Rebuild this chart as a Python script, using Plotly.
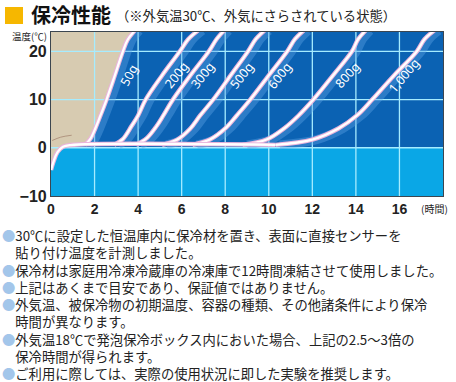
import plotly.graph_objects as go

# ---------------- data ----------------
hour_ticks = [0, 2, 4, 6, 8, 10, 12, 14, 16]
temp_ticks = [-10, 0, 10, 20]
temp_tick_text = ["−10", "0", "10", "20"]

# initial warming of frozen pack + frozen plateau
start_t = [0.0, 0.12, 0.3, 0.55, 0.9, 10.3]
start_temp = [-4.6, -2.8, -0.9, 0.2, 0.56, 0.6]

faint_t = [0.05, 0.45, 0.95]
faint_temp = [1.5, 2.2, 2.6]

labels = ["50g", "200g", "300g", "500g", "600g", "800g", "1,000g"]

t_50g = [1.55, 1.8, 2.05, 2.27, 2.55, 2.93, 3.3, 3.52, 3.85]
temp_50g = [0.6, 1.8, 4.2, 6.7, 10, 15, 20, 22.4, 24.3]
t_200g = [2.9, 3.3, 3.7, 4.0, 4.35, 5.1, 5.92, 6.3, 6.75]
temp_200g = [0.6, 1.8, 4.5, 6.7, 10, 15, 20, 22.5, 24.3]
t_300g = [3.9, 4.4, 4.85, 5.16, 5.6, 6.4, 7.25, 7.6, 7.95]
temp_300g = [0.6, 2.0, 4.5, 6.7, 10, 15, 20, 22.5, 24.3]
t_500g = [5.1, 5.8, 6.4, 6.85, 7.45, 8.25, 9.05, 9.4, 9.8]
temp_500g = [0.6, 1.7, 4.0, 6.7, 10, 15, 20, 22.5, 24.3]
t_600g = [6.5, 7.3, 8.0, 8.53, 9.15, 10.0, 10.85, 11.2, 11.6]
temp_600g = [0.6, 1.7, 4.0, 6.7, 10, 15, 20, 22.5, 24.3]
t_800g = [8.8, 9.9, 10.7, 11.37, 12.05, 12.95, 13.82, 14.1, 14.45]
temp_800g = [0.6, 1.7, 4.0, 6.7, 10, 15, 20, 22.5, 24.3]
t_1000g = [10.3, 12.0, 13.2, 14.05, 14.75, 15.75, 16.8, 17.15, 17.6]
temp_1000g = [0.6, 1.7, 4.0, 6.7, 10, 15, 20, 22.5, 24.3]

curves_t = [t_50g, t_200g, t_300g, t_500g, t_600g, t_800g, t_1000g]
curves_temp = [temp_50g, temp_200g, temp_300g, temp_500g, temp_600g, temp_800g, temp_1000g]

title_main = "保冷性能"
title_sub = "（※外気温30℃、外気にさらされている状態）"
y_title = "温度(℃)"
x_unit = "(時間)"

notes = [
    (True, "30℃に設定した恒温庫内に保冷材を置き、表面に直接センサーを"),
    (False, "貼り付け温度を計測しました。"),
    (True, "保冷材は家庭用冷凍冷蔵庫の冷凍庫で12時間凍結させて使用しました。"),
    (True, "上記はあくまで目安であり、保証値ではありません。"),
    (True, "外気温、被保冷物の初期温度、容器の種類、その他諸条件により保冷"),
    (False, "時間が異なります。"),
    (True, "外気温18℃で発泡保冷ボックス内においた場合、上記の2.5～3倍の"),
    (False, "保冷時間が得られます。"),
    (True, "ご利用に際しては、実際の使用状況に即した実験を推奨します。"),
]

# ---------------- layout constants ----------------
W, H = 456, 382
L, R, T, B = 51, 13, 32, 186
X_MIN, X_MAX = 0, 18
Y_MIN, Y_MAX = -10, 24

DARK_BLUE = "#0b62b3"
CYAN = "#0aa7e6"
BEIGE = "#d7cbb1"
GRID = "#a6ecff"
CJK = "Noto Sans CJK JP"


def px_x(p):
    return (p - L) / (W - L - R)


def px_y(p):
    return (H - B - p) / (H - T - B)


fig = go.Figure()

# beige region left of the 50g curve (above the initial warming curve)
beige_x = start_t[:5] + t_50g + [t_50g[-1] + 0.3, X_MIN - 2, X_MIN - 2]
beige_y = start_temp[:5] + temp_50g + [Y_MAX + 3, Y_MAX + 3, start_temp[0]]
fig.add_trace(go.Scatter(x=beige_x, y=beige_y, mode="lines", fill="toself",
                         fillcolor=BEIGE, line=dict(width=0, shape="spline"),
                         hoverinfo="skip", showlegend=False))

# grid lines drawn as traces so they sit above the filled regions
gx, gy = [], []
for v in hour_ticks[1:]:
    gx += [v, v, None]
    gy += [Y_MIN, Y_MAX, None]
for v in temp_ticks[1:]:
    gx += [X_MIN, X_MAX, None]
    gy += [v, v, None]
fig.add_trace(go.Scatter(x=gx, y=gy, mode="lines", line=dict(color=GRID, width=1.3),
                         hoverinfo="skip", showlegend=False))

fig.add_trace(go.Scatter(x=faint_t, y=faint_temp, mode="lines",
                         line=dict(color="rgba(160,125,105,0.7)", width=1, shape="spline"),
                         hoverinfo="skip", showlegend=False))

# soft glow on the right side of each curve
for ct, cy in zip(curves_t, curves_temp):
    fig.add_trace(go.Scatter(x=[v + 0.2 for v in ct], y=cy, mode="lines",
                             line=dict(color="rgba(95,165,230,0.4)", width=9, shape="spline"),
                             hoverinfo="skip", showlegend=False))

# curves: pink rim + white core
for ct, cy in list(zip(curves_t, curves_temp)) + [(start_t, start_temp)]:
    fig.add_trace(go.Scatter(x=ct, y=cy, mode="lines",
                             line=dict(color="#eab4dc", width=4.4, shape="spline"),
                             hoverinfo="skip", showlegend=False))
    fig.add_trace(go.Scatter(x=ct, y=cy, mode="lines",
                             line=dict(color="#ffffff", width=2.3, shape="spline"),
                             hoverinfo="skip", showlegend=False))

# curve labels (anchored at each curve's 15 ℃ point)
label_shift = [14, 14, 12, 11, 11, 14, 10]
label_angle = [-62, -52, -52, -52, -52, -48, -50]
for name, ct, cy, sh, ang in zip(labels, curves_t, curves_temp, label_shift, label_angle):
    i = cy.index(15)
    fig.add_annotation(x=ct[i], y=cy[i], xref="x", yref="y", text=name, showarrow=False,
                       xshift=sh, textangle=ang,
                       font=dict(family="Noto Sans", size=12.5, color="white"))

# cyan frozen band
fig.add_shape(type="rect", xref="x", yref="y", x0=X_MIN, x1=X_MAX, y0=Y_MIN, y1=0,
              fillcolor=CYAN, line=dict(width=0), layer="below")

# title block
fig.add_shape(type="rect", xref="paper", yref="paper", x0=px_x(5), x1=px_x(23),
              y0=px_y(24), y1=px_y(7), fillcolor="#f6b700", line=dict(width=0))
fig.add_annotation(xref="paper", yref="paper", x=px_x(29), y=px_y(15), xanchor="left",
                   yanchor="middle", text=title_main, showarrow=False,
                   font=dict(family=CJK, size=20, color="#111", weight="bold"))
fig.add_annotation(xref="paper", yref="paper", x=px_x(114), y=px_y(16), xanchor="left",
                   yanchor="middle", text=title_sub, showarrow=False,
                   font=dict(family=CJK, size=13.3, color="#222"))
fig.add_annotation(xref="paper", yref="paper", x=px_x(48), y=px_y(35.5), xanchor="right",
                   yanchor="middle", text=y_title, showarrow=False, borderpad=0,
                   font=dict(family=CJK, size=9.5, color="#222"))
fig.add_annotation(xref="paper", yref="paper", x=px_x(419), y=px_y(208), xanchor="left",
                   yanchor="middle", text=x_unit, showarrow=False,
                   font=dict(family=CJK, size=10, color="#222"))

# notes: one multi-line block (line height 1.3 em ≈ 17.3 px)
rows = []
for bullet, line in notes:
    col = "#a3c6ea" if bullet else "rgba(0,0,0,0)"
    rows.append("<span style='color:" + col + "'>●</span>" + line)
fig.add_annotation(xref="paper", yref="paper", x=px_x(1), y=px_y(304.5), xanchor="left",
                   yanchor="middle", align="left", text="<br>".join(rows), showarrow=False,
                   borderpad=0, font=dict(family=CJK, size=13.3, color="#222"))

fig.update_xaxes(range=[X_MIN, X_MAX], tickvals=hour_ticks, showgrid=False, zeroline=False,
                 showline=True, linecolor="#3c4650", linewidth=1.2, mirror=True, ticks="",
                 tickfont=dict(family="Liberation Sans", size=14, color="#222", weight="bold"),
                 fixedrange=True)
fig.update_yaxes(range=[Y_MIN, Y_MAX], tickvals=temp_ticks, ticktext=temp_tick_text,
                 showgrid=False, zeroline=False, showline=True, linecolor="#3c4650",
                 linewidth=1.2, mirror=True, ticks="",
                 tickfont=dict(family="Liberation Sans", size=16, color="#222", weight="bold"),
                 fixedrange=True)
fig.update_layout(width=W, height=H, margin=dict(l=L, r=R, t=T, b=B),
                  plot_bgcolor=DARK_BLUE, paper_bgcolor="white", showlegend=False)

fig.write_html("out.html")
